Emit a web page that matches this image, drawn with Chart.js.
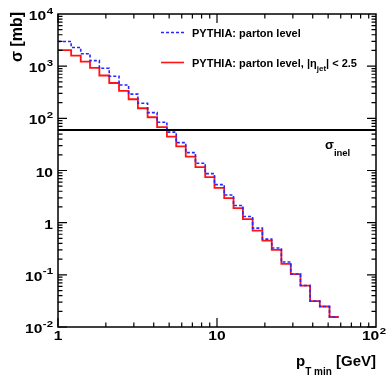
<!DOCTYPE html>
<html>
<head>
<meta charset="utf-8">
<script src="https://cdn.jsdelivr.net/npm/chart.js@4/dist/chart.umd.min.js"></script>
<style>
  html, body { margin: 0; padding: 0; background: #ffffff; }
</style>
</head>
<body>
<canvas id="myChart" width="386" height="377"></canvas>
<script>
// bin edges in pT min [GeV] (left edge of each bin, plus the last right edge)
var binEdges = [1, 1.21, 1.39, 1.59, 1.82, 2.1, 2.42, 2.78, 3.18, 3.66, 4.2, 4.84, 5.54, 6.36,
  7.32, 8.43, 9.64, 11.1, 12.7, 14.55, 16.75, 19.3, 22.1, 25.4, 29.1, 33.5, 38.5, 44.3, 51.0, 58.2];

// sigma [mb] per bin
var pythiaParton = [2970, 2280, 1735, 1275, 912, 641, 436, 291, 195, 128.6, 84.2, 54.4, 34.2,
  22.0, 13.8, 8.73, 5.37, 3.38, 2.13, 1.31, 0.785, 0.483, 0.326, 0.176, 0.1035, 0.0623,
  0.0313, 0.0247, 0.01556];
var pythiaPartonEta = [2026, 1589, 1219, 924, 663, 476, 335, 232, 156, 105, 67.8, 44.6, 28.9,
  18.5, 11.6, 7.44, 4.64, 2.96, 1.90, 1.17, 0.706, 0.452, 0.301, 0.1625, 0.1035, 0.0623,
  0.0313, 0.0247, 0.01556];

var sigmaInel = 60;

var xTicks = [1, 10, 100];
var xTickLabels = [['1', ''], ['10', ''], ['10', '2']];
var yTicks = [1e-2, 1e-1, 1, 10, 1e2, 1e3, 1e4];
var yTickLabels = [['10', '-2'], ['10', '-1'], ['1', ''], ['10', ''], ['10', '2'], ['10', '3'], ['10', '4']];

var FONT = '"Liberation Sans", Arial, sans-serif';

function histPoints(edges, values) {
  var pts = [];
  for (var i = 0; i < values.length; i++) {
    pts.push({ x: edges[i], y: values[i] });
  }
  pts.push({ x: edges[values.length], y: values[values.length - 1] });
  return pts;
}

// draw text with an optional horizontal stretch, returns its drawn width
function drawText(ctx, s, x, y, size, sx) {
  sx = sx || 1;
  ctx.font = 'bold ' + size + 'px ' + FONT;
  ctx.save();
  ctx.translate(x, y);
  ctx.scale(sx, 1);
  ctx.fillText(s, 0, 0);
  ctx.restore();
  return ctx.measureText(s).width * sx;
}

function textWidth(ctx, s, size, sx) {
  ctx.font = 'bold ' + size + 'px ' + FONT;
  return ctx.measureText(s).width * (sx || 1);
}

var LBL = 13, SUP = 9.5, STRETCH = 1.2;

function drawPowLabel(ctx, parts, x, y, align) {
  var w = textWidth(ctx, parts[0], LBL, STRETCH) + (parts[1] ? textWidth(ctx, parts[1], SUP, STRETCH) + 0.5 : 0);
  var x0 = align === 'right' ? x - w : x - w / 2;
  ctx.textAlign = 'left';
  ctx.textBaseline = 'alphabetic';
  var bw = drawText(ctx, parts[0], x0, y, LBL, STRETCH);
  if (parts[1]) {
    drawText(ctx, parts[1], x0 + bw + 0.5, y - 6.5, SUP, STRETCH);
  }
}

var rootFrame = {
  id: 'rootFrame',
  afterDatasetsDraw: function(chart) {
    var ctx = chart.ctx;
    var a = chart.chartArea;
    var xs = chart.scales.x, ys = chart.scales.y;
    ctx.save();
    ctx.strokeStyle = '#000000';
    ctx.fillStyle = '#000000';
    ctx.lineWidth = 1.5;
    ctx.strokeRect(a.left, a.top, a.right - a.left, a.bottom - a.top);

    ctx.lineWidth = 1.2;
    ctx.beginPath();
    // x ticks (inside, bottom and top)
    for (var d = 1; d < 100; d *= 10) {
      for (var k = 1; k <= 9; k++) {
        var px = xs.getPixelForValue(d * k);
        var len = k === 1 ? 9 : 4.5;
        ctx.moveTo(px, a.bottom); ctx.lineTo(px, a.bottom - len);
        ctx.moveTo(px, a.top); ctx.lineTo(px, a.top + len);
      }
    }
    // y ticks (inside, left and right)
    for (var e = -2; e < 4; e++) {
      for (var m = 1; m <= 9; m++) {
        var py = ys.getPixelForValue(m * Math.pow(10, e));
        var l2 = m === 1 ? 9 : 4.5;
        ctx.moveTo(a.left, py); ctx.lineTo(a.left + l2, py);
        ctx.moveTo(a.right, py); ctx.lineTo(a.right - l2, py);
      }
    }
    ctx.stroke();

    // tick labels
    xTicks.forEach(function(v, i) {
      var px = xs.getPixelForValue(v);
      if (i === xTicks.length - 1) px -= 2;
      drawPowLabel(ctx, xTickLabels[i], px, a.bottom + 13, 'center');
    });
    yTicks.forEach(function(v, i) {
      var py = ys.getPixelForValue(v);
      drawPowLabel(ctx, yTickLabels[i], a.left - 5, py + 6, 'right');
    });

    // axis titles
    ctx.textAlign = 'left';
    ctx.textBaseline = 'alphabetic';
    var wp = textWidth(ctx, 'p', 15);
    var wsub = textWidth(ctx, 'T min', 10);
    var wg = textWidth(ctx, ' [GeV]', 15);
    var tx = a.right - (wp + wsub + wg);
    drawText(ctx, 'p', tx, 366, 15);
    drawText(ctx, 'T min', tx + wp, 375, 10);
    drawText(ctx, ' [GeV]', tx + wp + wsub, 366, 15);

    ctx.save();
    ctx.translate(22, 12);
    ctx.rotate(-Math.PI / 2);
    ctx.textAlign = 'right';
    ctx.font = 'bold 16px ' + FONT;
    ctx.fillText('\u03c3 [mb]', 0, 0);
    ctx.restore();

    // sigma_inel label
    ctx.textAlign = 'left';
    var ws = drawText(ctx, '\u03c3', 325, 149, 13);
    drawText(ctx, 'inel', 325 + ws, 156, 9.5);

    // legend
    ctx.lineWidth = 1.6;
    ctx.strokeStyle = 'rgb(40,40,255)';
    ctx.setLineDash([3, 2]);
    ctx.beginPath(); ctx.moveTo(161, 32.5); ctx.lineTo(184, 32.5); ctx.stroke();
    ctx.setLineDash([]);
    ctx.strokeStyle = 'rgb(255,20,20)';
    ctx.beginPath(); ctx.moveTo(161, 62.5); ctx.lineTo(184, 62.5); ctx.stroke();

    ctx.fillStyle = '#000000';
    drawText(ctx, 'PYTHIA: parton level', 192, 36.5, 11);
    var w1 = drawText(ctx, 'PYTHIA: parton level, |\u03b7', 192, 66.5, 11);
    var w2 = drawText(ctx, 'jet', 192 + w1, 71, 8);
    drawText(ctx, '| < 2.5', 192 + w1 + w2, 66.5, 11);
    ctx.restore();
  }
};

var chart = new Chart(document.getElementById('myChart'), {
  type: 'line',
  data: {
    datasets: [
      {
        data: [{ x: 1, y: sigmaInel }, { x: 100, y: sigmaInel }],
        borderColor: '#000000',
        borderWidth: 2,
        pointRadius: 0,
        fill: false
      },
      {
        data: histPoints(binEdges, pythiaParton),
        borderColor: 'rgb(40,40,255)',
        borderWidth: 1.6,
        borderDash: [3, 2],
        stepped: 'before',
        pointRadius: 0,
        fill: false
      },
      {
        data: histPoints(binEdges, pythiaPartonEta),
        borderColor: 'rgb(255,20,20)',
        borderWidth: 1.8,
        stepped: 'before',
        pointRadius: 0,
        fill: false
      }
    ]
  },
  options: {
    responsive: false,
    animation: false,
    devicePixelRatio: 1,
    events: [],
    layout: {
      padding: { left: 58, top: 14, right: 10, bottom: 50 }
    },
    scales: {
      x: { type: 'logarithmic', min: 1, max: 100, display: false },
      y: { type: 'logarithmic', min: 0.01, max: 10000, display: false }
    },
    plugins: {
      legend: { display: false },
      tooltip: { enabled: false }
    }
  },
  plugins: [rootFrame]
});
</script>
</body>
</html>
